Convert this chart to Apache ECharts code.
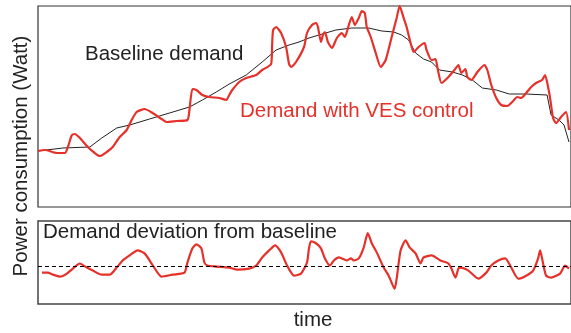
<!DOCTYPE html>
<html>
<head>
<meta charset="utf-8">
<script src="https://cdn.jsdelivr.net/npm/echarts@6/dist/echarts.min.js"></script>
<style>
  html, body { margin: 0; padding: 0; background: #fff; }
  #chart { width: 571px; height: 333px; }
</style>
</head>
<body>
<div id="chart"></div>
<script>
// baseline demand (thin black)
const baseTime = [0, 25, 52, 64, 79, 92, 112, 132, 152, 165, 179, 192, 209, 225, 239, 252, 262, 272, 282, 299, 315, 332, 345, 357, 365, 372, 379, 387, 395, 403, 416, 426, 436, 446, 460, 473, 490, 511, 515, 523, 528, 533];
const baseDemand = [56, 59, 60, 69, 79, 82, 88, 94, 100, 107, 115, 123, 132, 145, 157, 162, 165, 169, 172, 177, 179, 179, 176, 175, 172, 167, 154, 148, 145, 137, 135, 132, 127, 119, 117, 113, 113, 112, 92, 87, 82, 65];

// demand with VES control (red)
const vesTime = [0, 7, 19, 27, 30, 34, 37, 42, 50, 57, 62, 69, 75, 82, 89, 94, 99, 107, 115, 124, 129, 139, 150, 152, 155, 159, 165, 172, 182, 189, 192, 195, 202, 209, 219, 225, 234, 235, 236, 239, 244, 249, 252, 254, 259, 267, 270, 275, 279, 281, 284, 286, 288, 291, 295, 300, 305, 308, 312, 315, 318, 322, 325, 328, 330, 334, 339, 344, 349, 355, 360, 363, 367, 370, 374, 377, 382, 388, 390, 395, 399, 401, 405, 411, 418, 422, 425, 429, 431, 435, 441, 448, 451, 455, 460, 465, 471, 476, 481, 485, 490, 495, 500, 506, 509, 512, 514, 517, 520, 525, 530, 533];
const vesDemand = [56, 57, 54, 54, 60, 72, 73, 69, 60, 54, 51, 55, 60, 70, 77, 87, 95, 98, 94, 88, 85, 86, 87, 97, 118, 117, 112, 110, 109, 107, 112, 117, 125, 129, 132, 137, 143, 162, 177, 180, 174, 160, 143, 140, 145, 160, 174, 182, 184, 180, 165, 172, 175, 165, 159, 169, 174, 170, 182, 190, 182, 189, 196, 194, 180, 170, 154, 140, 147, 170, 189, 201, 189, 180, 164, 155, 160, 164, 157, 147, 148, 139, 124, 129, 137, 142, 134, 138, 130, 127, 135, 142, 137, 122, 109, 102, 101, 105, 110, 109, 114, 120, 124, 127, 132, 120, 109, 89, 84, 90, 95, 77];

// demand deviation from baseline
const devTime = [4, 10, 15, 22, 29, 35, 42, 49, 55, 64, 72, 79, 85, 92, 100, 107, 114, 120, 124, 135, 147, 150, 155, 159, 164, 167, 170, 179, 192, 200, 212, 219, 225, 232, 238, 244, 250, 257, 264, 270, 272, 274, 279, 284, 288, 293, 297, 302, 305, 310, 314, 317, 322, 327, 331, 335, 340, 347, 352, 358, 360, 364, 369, 373, 379, 384, 387, 395, 404, 412, 415, 419, 422, 424, 432, 442, 450, 455, 462, 469, 474, 482, 490, 497, 502, 504, 507, 510, 515, 524, 529, 533];
const deviation = [-6, -6, -8, -10, -7, -2, 3, -1, -4, -8, -8, -1, 6, 11, 16, 13, 3, -6, -10, -8, -6, 4, 18, 22, 18, 4, 1, 0, -1, -3, -2, 1, 9, 16, 21, 14, 1, -9, -7, 4, 18, 25, 23, 18, 8, 1, 6, 9, 8, 6, 8, 6, 8, 19, 33, 23, 14, -1, -9, -22, -12, 16, 26, 19, 13, 3, 9, 11, 6, 3, -2, -11, -2, -1, -4, -12, -6, 1, 6, 8, 1, -12, -9, -4, 8, 16, 3, -9, -11, -7, 1, -2];

const zip = (xs, ys) => xs.map((x, i) => [x, ys[i]]);

const red = "#e5312a";
const font = "'Liberation Sans', Arial, sans-serif";

const myChart = echarts.init(document.getElementById("chart"), null, { renderer: "canvas" });

let option = {
  backgroundColor: "#fff",
  animation: false,
  grid: [
    { left: 38, right: -2, top: 6, height: 201, show: true, borderColor: "#333", borderWidth: 1.2 },
    { left: 38, right: -2, top: 221, height: 83, show: true, borderColor: "#444", borderWidth: 1.5 },
  ],
  xAxis: [
    { type: "value", gridIndex: 0, min: 0, max: 535, show: false },
    { type: "value", gridIndex: 1, min: 0, max: 535, show: false },
  ],
  yAxis: [
    { type: "value", gridIndex: 0, min: 0, max: 201, show: false },
    { type: "value", gridIndex: 1, min: -37, max: 45, show: false },
  ],
  series: [
    {
      name: "Baseline demand",
      type: "line",
      xAxisIndex: 0,
      yAxisIndex: 0,
      showSymbol: false,
      lineStyle: { color: "#222", width: 1 },
      data: zip(baseTime, baseDemand),
      z: 2,
    },
    {
      name: "Demand with VES control",
      type: "line",
      xAxisIndex: 0,
      yAxisIndex: 0,
      showSymbol: false,
      smooth: 0.2,
      lineStyle: { color: red, width: 2.2 },
      data: zip(vesTime, vesDemand),
      z: 3,
    },
    {
      name: "Demand deviation",
      type: "line",
      xAxisIndex: 1,
      yAxisIndex: 1,
      showSymbol: false,
      smooth: 0.2,
      lineStyle: { color: red, width: 2.2 },
      data: zip(devTime, deviation),
      markLine: {
        silent: true,
        symbol: "none",
        label: { show: false },
        lineStyle: { color: "#000", type: [4, 3], width: 1 },
        data: [{ yAxis: 0 }],
      },
    },
  ],
  graphic: [
    {
      type: "text",
      x: 21,
      y: 156,
      rotation: Math.PI / 2,
      style: { text: "Power consumption (Watt)", font: "20.5px " + font, fill: "#222", textAlign: "center", textVerticalAlign: "middle" },
    },
    {
      type: "text",
      x: 85,
      y: 54,
      style: { text: "Baseline demand", font: "20.5px " + font, fill: "#222", textAlign: "left", textVerticalAlign: "middle" },
    },
    {
      type: "text",
      x: 240,
      y: 111,
      style: { text: "Demand with VES control", font: "20.5px " + font, fill: red, textAlign: "left", textVerticalAlign: "middle" },
    },
    {
      type: "text",
      x: 43,
      y: 232,
      style: { text: "Demand deviation from baseline", font: "20.5px " + font, fill: "#222", textAlign: "left", textVerticalAlign: "middle" },
    },
    {
      type: "text",
      x: 313,
      y: 320,
      style: { text: "time", font: "20.5px " + font, fill: "#222", textAlign: "center", textVerticalAlign: "middle" },
    },
  ],
};

myChart.setOption(option);
</script>
</body>
</html>
